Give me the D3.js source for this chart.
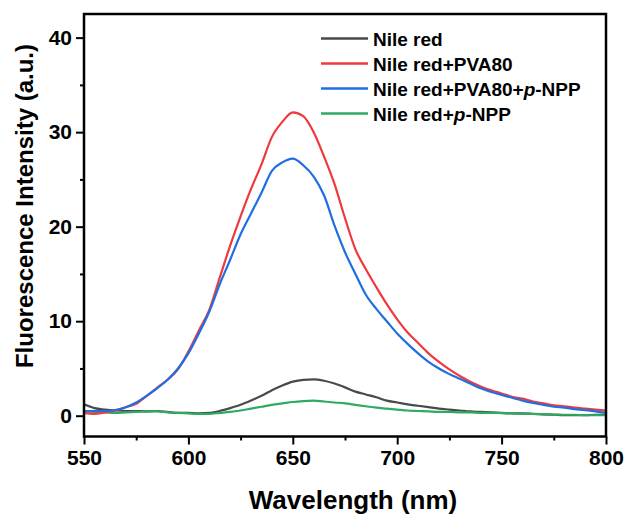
<!DOCTYPE html>
<html>
<head>
<meta charset="utf-8">
<script src="https://cdn.jsdelivr.net/npm/d3@7"></script>
<style>
  html, body { margin: 0; padding: 0; background: #fff; }
  svg { display: block; font-family: "Liberation Sans", Arial, sans-serif; font-weight: bold; }
</style>
</head>
<body>
<svg id="chart" width="630" height="518"></svg>
<script>
// wavelengths (nm), 5 nm steps
const wavelengths = d3.range(550, 801, 5);

const nileRed = [1.2,0.8,0.65,0.55,0.5,0.5,0.45,0.5,0.4,0.3,0.3,0.25,0.3,0.5,0.8,1.15,1.6,2.1,2.7,3.2,3.6,3.8,3.85,3.7,3.4,3.0,2.55,2.25,1.95,1.6,1.4,1.2,1.05,0.9,0.75,0.65,0.55,0.45,0.4,0.35,0.3,0.25,0.25,0.2,0.15,0.1,0.05,0.05,0.05,0.1,0.1];

const nileRedPVA80 = [0.3,0.2,0.35,0.55,0.9,1.25,2.1,2.95,3.8,4.9,6.8,9.0,11.2,14.6,18.0,21.1,24.0,26.6,29.5,31.1,32.1,31.7,30.0,27.4,24.5,20.9,17.6,15.5,13.6,11.8,10.2,8.8,7.7,6.6,5.7,4.9,4.2,3.6,3.1,2.7,2.35,2.0,1.8,1.5,1.3,1.1,1.0,0.85,0.75,0.65,0.55];

const nileRedPVA80pNPP = [0.5,0.5,0.5,0.6,0.9,1.4,2.1,2.9,3.8,5.0,6.6,8.7,11.0,13.9,16.5,19.2,21.4,23.6,25.9,26.8,27.2,26.5,25.3,23.3,20.1,17.3,15.0,12.8,11.3,10.0,8.7,7.6,6.6,5.7,5.0,4.4,3.9,3.4,2.9,2.5,2.2,1.9,1.6,1.35,1.15,0.95,0.85,0.7,0.6,0.45,0.3];

const nileRedpNPP = [0.45,0.4,0.35,0.3,0.35,0.4,0.45,0.45,0.35,0.3,0.25,0.2,0.2,0.3,0.4,0.55,0.75,0.95,1.15,1.3,1.45,1.55,1.6,1.5,1.4,1.3,1.15,1.0,0.85,0.75,0.65,0.55,0.5,0.45,0.4,0.4,0.35,0.35,0.3,0.3,0.28,0.25,0.2,0.18,0.15,0.12,0.1,0.1,0.05,0.05,0.05];

const seriesNames = ["Nile red", "Nile red+PVA80", "Nile red+PVA80+p-NPP", "Nile red+p-NPP"];
const seriesValues = [nileRed, nileRedPVA80, nileRedPVA80pNPP, nileRedpNPP];
const seriesColors = ["#4a4a4a", "#ee3a3f", "#1f6fe0", "#2eaa62"];

const xMajorTicks = [550, 600, 650, 700, 750, 800];
const xMinorTicks = [575, 625, 675, 725, 775];
const yMajorTicks = [0, 10, 20, 30, 40];
const yMinorTicks = [5, 15, 25, 35];

const xLabel = "Wavelength (nm)";
const yLabel = "Fluorescence Intensity (a.u.)";

// ---- layout ----
const pLeft = 84, pRight = 606, pTop = 14, pBottom = 436.5;
const svg = d3.select("#chart");

const x = d3.scaleLinear().domain([550, 800]).range([pLeft, pRight]);
const y = d3.scaleLinear().domain([-2.2, 42.5]).range([pBottom, pTop]);

// clip
svg.append("clipPath").attr("id", "clip")
  .append("rect").attr("x", pLeft).attr("y", pTop).attr("width", pRight - pLeft).attr("height", pBottom - pTop);

// curves
const line = d3.line().x(d => x(d[0])).y(d => y(d[1])).curve(d3.curveMonotoneX);
const plotG = svg.append("g").attr("clip-path", "url(#clip)");
[0, 3, 1, 2].forEach(i => {
  const pts = wavelengths.map((w, j) => [w, seriesValues[i][j]]);
  plotG.append("path").datum(pts)
    .attr("d", line)
    .attr("fill", "none")
    .attr("stroke", seriesColors[i])
    .attr("stroke-width", 2.2)
    .attr("stroke-linejoin", "round");
});

// axes
const fmt = d3.format("d");
const xAxis = svg.append("g").attr("transform", `translate(0,${pBottom})`)
  .call(d3.axisBottom(x).tickValues(xMajorTicks).tickSize(8).tickPadding(6).tickFormat(fmt));
const xMinor = svg.append("g").attr("transform", `translate(0,${pBottom})`)
  .call(d3.axisBottom(x).tickValues(xMinorTicks).tickSize(4).tickFormat(""));
const yAxis = svg.append("g").attr("transform", `translate(${pLeft},0)`)
  .call(d3.axisLeft(y).tickValues(yMajorTicks).tickSize(8).tickPadding(4).tickFormat(fmt));
const yMinor = svg.append("g").attr("transform", `translate(${pLeft},0)`)
  .call(d3.axisLeft(y).tickValues(yMinorTicks).tickSize(4).tickFormat(""));

[xAxis, xMinor, yAxis, yMinor].forEach(g => {
  g.select(".domain").remove();
  g.selectAll(".tick line").attr("stroke", "#000").attr("stroke-width", 2);
  g.selectAll("text").attr("fill", "#000")
    .style("font-family", '"Liberation Sans", Arial, sans-serif')
    .style("font-weight", "bold").style("font-size", "21px");
});

// frame
svg.append("rect")
  .attr("x", pLeft).attr("y", pTop)
  .attr("width", pRight - pLeft).attr("height", pBottom - pTop)
  .attr("fill", "none").attr("stroke", "#000").attr("stroke-width", 2.5);

// axis labels
svg.append("text")
  .attr("x", 353).attr("y", 509)
  .attr("text-anchor", "middle")
  .style("font-size", "26px")
  .text(xLabel);

svg.append("text")
  .attr("transform", "translate(33,206) rotate(-90)")
  .attr("text-anchor", "middle")
  .style("font-size", "24px")
  .text(yLabel);

// legend
const legend = svg.append("g");
const rowY = [38.5, 63.5, 88.5, 113.5];
seriesNames.forEach((name, i) => {
  legend.append("line")
    .attr("x1", 321).attr("x2", 368)
    .attr("y1", rowY[i]).attr("y2", rowY[i])
    .attr("stroke", seriesColors[i]).attr("stroke-width", 2.4);
  const t = legend.append("text")
    .attr("x", 373).attr("y", rowY[i] + 7)
    .style("font-size", "19px");
  const parts = name.split("p-");
  if (parts.length === 2) {
    t.append("tspan").text(parts[0]);
    t.append("tspan").style("font-style", "italic").text("p");
    t.append("tspan").text("-" + parts[1]);
  } else {
    t.text(name);
  }
});
</script>
</body>
</html>
